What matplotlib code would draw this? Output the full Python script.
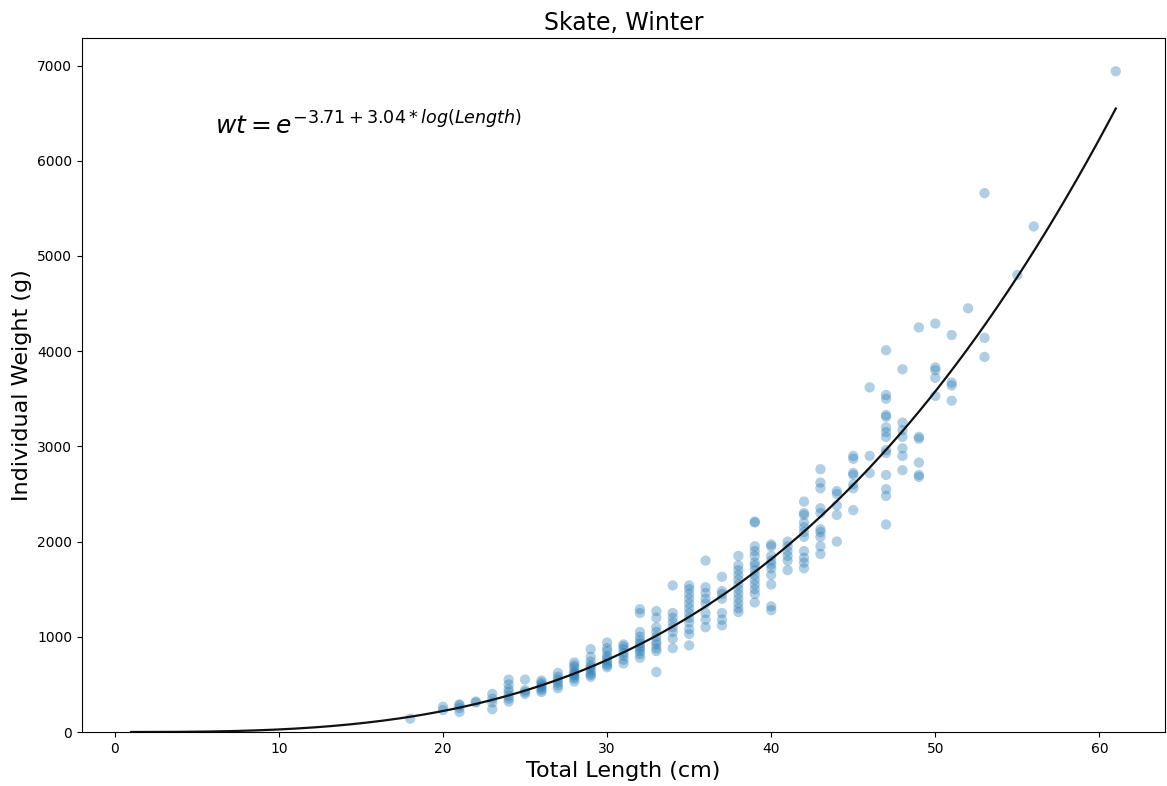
import numpy as np
import matplotlib
matplotlib.use('Agg')
import matplotlib.pyplot as plt

# weights (g), grouped by total length (cm)
weights_by_length = {
    18: [140],
    20: [230, 265],
    21: [210, 250, 280, 290],
    22: [310, 320],
    23: [240, 310, 350, 400],
    24: [320, 350, 380, 420, 450, 500, 550],
    25: [400, 420, 440, 550],
    26: [420, 440, 460, 480, 500, 520, 540],
    27: [460, 490, 520, 550, 580, 620],
    28: [530, 560, 580, 600, 620, 640, 680, 700, 730],
    29: [580, 600, 620, 650, 680, 700, 740, 790, 870],
    30: [680, 700, 720, 750, 780, 800, 850, 880, 940],
    31: [720, 760, 800, 830, 870, 900, 920],
    32: [780, 820, 850, 880, 900, 930, 960, 1000, 1050, 1250, 1290],
    33: [630, 850, 880, 920, 950, 1000, 1050, 1100, 1200, 1270],
    34: [880, 980, 1050, 1100, 1150, 1200, 1250, 1540],
    35: [910, 1030, 1080, 1150, 1200, 1250, 1300, 1350, 1400, 1450, 1500, 1540],
    36: [1100, 1180, 1250, 1350, 1400, 1460, 1520, 1800],
    37: [1120, 1180, 1250, 1400, 1450, 1480, 1630],
    38: [1260, 1300, 1350, 1400, 1450, 1500, 1550, 1600, 1650, 1700, 1750, 1850],
    39: [1360, 1450, 1500, 1550, 1600, 1650, 1700, 1750, 1780, 1850, 1900, 1950, 2200, 2210],
    40: [1280, 1320, 1550, 1650, 1720, 1760, 1800, 1850, 1950, 1970],
    41: [1700, 1800, 1850, 1900, 1950, 2000],
    42: [1720, 1780, 1830, 1900, 2050, 2100, 2150, 2200, 2280, 2300, 2420],
    43: [1870, 1950, 2050, 2100, 2130, 2300, 2350, 2560, 2620, 2760],
    44: [2000, 2280, 2380, 2500, 2530],
    45: [2330, 2560, 2600, 2700, 2720, 2870, 2900],
    46: [2720, 2900, 3620],
    47: [2180, 2480, 2550, 2700, 2930, 2960, 3100, 3150, 3200, 3310, 3330, 3500, 3540, 4010],
    48: [2750, 2900, 2980, 3100, 3170, 3250, 3810],
    49: [2680, 2700, 2830, 3080, 3100, 4250],
    50: [3530, 3720, 3800, 3830, 4290],
    51: [3480, 3640, 3670, 4170],
    52: [4450],
    53: [3940, 4140, 5660],
    55: [4800],
    56: [5310],
    61: [6940],
}

# fitted model: wt = exp(a + b*log(length))
a_coef = -3.71
b_coef = 3.04
fit_start = 1
fit_end = 61

lengths = []
weights = []
for length, ws in weights_by_length.items():
    for w in ws:
        lengths.append(length)
        weights.append(w)

fig = plt.figure(figsize=(11.67, 7.86), dpi=100)
ax = fig.add_axes([0.0703, 0.0687, 0.928, 0.883])

ax.scatter(lengths, weights, s=55, color='#1f77b4', alpha=0.35, edgecolors='none')

fit_x = np.linspace(fit_start, fit_end, 300)
fit_y = np.exp(a_coef + b_coef * np.log(fit_x))
ax.plot(fit_x, fit_y, color='#111111', linewidth=1.6)

ax.set_xlim(-2, 64)
ax.set_ylim(0, 7290)
ax.text(6.1, 6280, r'$wt = e^{-3.71 + 3.04*log(Length)}$', fontsize=18)

ax.set_title('Skate, Winter', fontsize=17)
ax.set_xlabel('Total Length (cm)', fontsize=16)
ax.set_ylabel('Individual Weight (g)', fontsize=16)

fig.savefig('out.png', dpi=100)
